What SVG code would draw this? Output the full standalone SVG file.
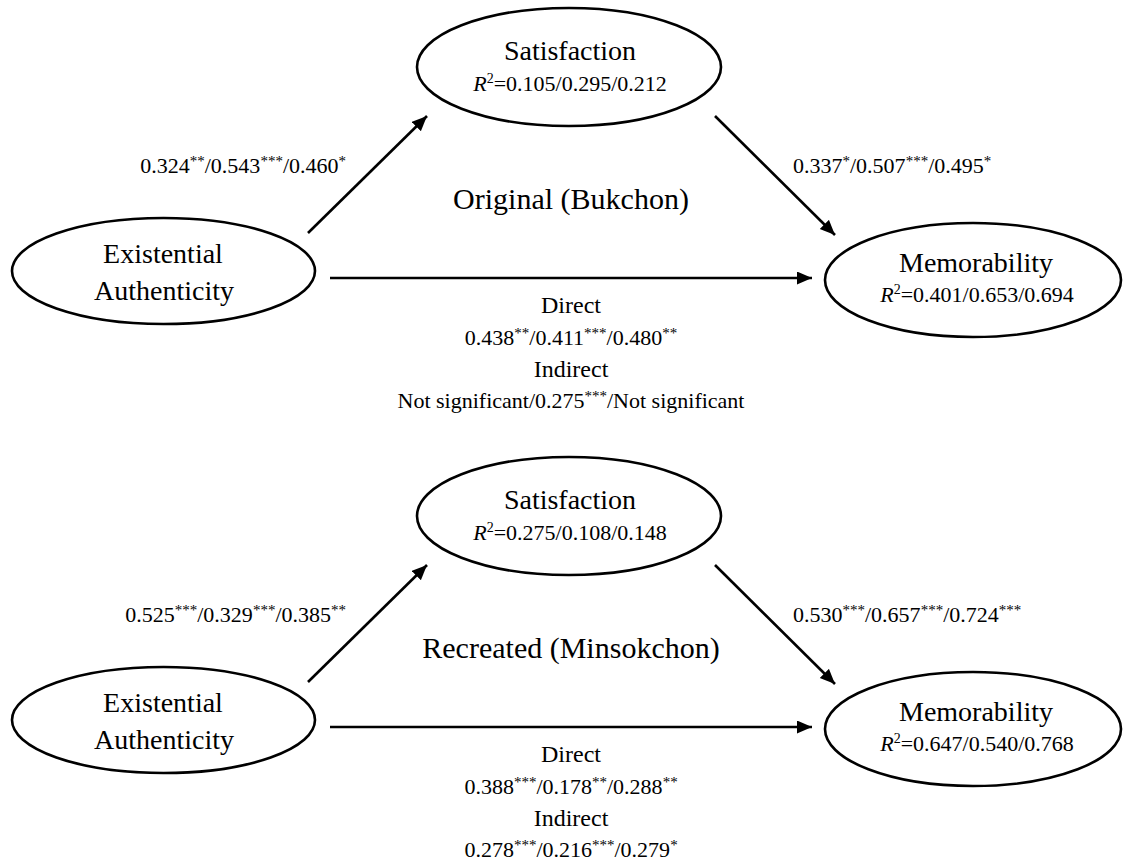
<svg xmlns="http://www.w3.org/2000/svg" width="1123" height="862" viewBox="0 0 1123 862">
<style>
text{font-family:"Liberation Serif","Times New Roman",serif;fill:#000;text-anchor:middle}
.node{fill:#fff;stroke:#000;stroke-width:2.6}
.n{font-size:28px}
.r{font-size:22px}
.l{font-size:22px}
.d{font-size:24px}
.t{font-size:30px}
.s{font-size:15px}
.i{font-style:italic}
.sup{font-size:14px}
.e{text-anchor:end}
.st{text-anchor:start}
.conn line{stroke:#000;stroke-width:2.6;marker-end:url(#ah)}
</style>
<defs>
<marker id="ah" markerUnits="userSpaceOnUse" markerWidth="16" markerHeight="14" refX="15" refY="6.5" orient="auto">
<path d="M0,0 L15,6.5 L0,13 z" fill="#000"/>
</marker>
</defs>
<rect width="1123" height="862" fill="#fff"/>

<!-- Top: Original (Bukchon) -->
<g id="sat1">
<ellipse class="node" cx="569" cy="67" rx="152" ry="59"/>
<text class="n" x="570" y="60">Satisfaction</text>
<text class="r" x="570" y="91"><tspan class="i">R</tspan><tspan class="sup" dy="-8">2</tspan><tspan dy="8">=0.105/0.295/0.212</tspan></text>
</g>
<g id="ea1">
<ellipse class="node" cx="163.5" cy="271" rx="151.5" ry="53"/>
<text class="n" x="163" y="263">Existential</text>
<text class="n" x="164" y="300">Authenticity</text>
</g>
<g id="mem1">
<ellipse class="node" cx="973" cy="280" rx="148" ry="57"/>
<text class="n" x="976" y="272">Memorability</text>
<text class="r" x="977" y="302"><tspan class="i">R</tspan><tspan class="sup" dy="-8">2</tspan><tspan dy="8">=0.401/0.653/0.694</tspan></text>
</g>
<g id="conn1" class="conn">
<line x1="308" y1="233" x2="427" y2="116"/>
<line x1="715" y1="116" x2="835" y2="235"/>
<line x1="330" y1="278" x2="812" y2="278"/>
</g>
<g id="labels1">
<text class="l e" x="346" y="173">0.324<tspan class="s" dy="-7">**</tspan><tspan dy="7">/0.543</tspan><tspan class="s" dy="-7">***</tspan><tspan dy="7">/0.460</tspan><tspan class="s" dy="-7">*</tspan></text>
<text class="l st" x="793" y="173">0.337<tspan class="s" dy="-7">*</tspan><tspan dy="7">/0.507</tspan><tspan class="s" dy="-7">***</tspan><tspan dy="7">/0.495</tspan><tspan class="s" dy="-7">*</tspan></text>
<text class="t" x="571" y="209">Original (Bukchon)</text>
<text class="d" x="571" y="313">Direct</text>
<text class="l" x="571" y="345">0.438<tspan class="s" dy="-7">**</tspan><tspan dy="7">/0.411</tspan><tspan class="s" dy="-7">***</tspan><tspan dy="7">/0.480</tspan><tspan class="s" dy="-7">**</tspan></text>
<text class="d" x="571" y="377">Indirect</text>
<text class="l" x="571" y="408">Not significant/0.275<tspan class="s" dy="-7">***</tspan><tspan dy="7">/Not significant</tspan></text>
</g>

<!-- Bottom: Recreated (Minsokchon) -->
<g id="sat2">
<ellipse class="node" cx="569" cy="516" rx="152" ry="59"/>
<text class="n" x="570" y="509">Satisfaction</text>
<text class="r" x="570" y="540"><tspan class="i">R</tspan><tspan class="sup" dy="-8">2</tspan><tspan dy="8">=0.275/0.108/0.148</tspan></text>
</g>
<g id="ea2">
<ellipse class="node" cx="163.5" cy="720" rx="151.5" ry="53"/>
<text class="n" x="163" y="712">Existential</text>
<text class="n" x="164" y="749">Authenticity</text>
</g>
<g id="mem2">
<ellipse class="node" cx="973" cy="729" rx="148" ry="57"/>
<text class="n" x="976" y="721">Memorability</text>
<text class="r" x="977" y="751"><tspan class="i">R</tspan><tspan class="sup" dy="-8">2</tspan><tspan dy="8">=0.647/0.540/0.768</tspan></text>
</g>
<g id="conn2" class="conn">
<line x1="308" y1="682" x2="427" y2="565"/>
<line x1="715" y1="565" x2="835" y2="684"/>
<line x1="330" y1="727" x2="812" y2="727"/>
</g>
<g id="labels2">
<text class="l e" x="346" y="622">0.525<tspan class="s" dy="-7">***</tspan><tspan dy="7">/0.329</tspan><tspan class="s" dy="-7">***</tspan><tspan dy="7">/0.385</tspan><tspan class="s" dy="-7">**</tspan></text>
<text class="l st" x="793" y="622">0.530<tspan class="s" dy="-7">***</tspan><tspan dy="7">/0.657</tspan><tspan class="s" dy="-7">***</tspan><tspan dy="7">/0.724</tspan><tspan class="s" dy="-7">***</tspan></text>
<text class="t" x="571" y="658">Recreated (Minsokchon)</text>
<text class="d" x="571" y="762">Direct</text>
<text class="l" x="571" y="794">0.388<tspan class="s" dy="-7">***</tspan><tspan dy="7">/0.178</tspan><tspan class="s" dy="-7">**</tspan><tspan dy="7">/0.288</tspan><tspan class="s" dy="-7">**</tspan></text>
<text class="d" x="571" y="826">Indirect</text>
<text class="l" x="571" y="857">0.278<tspan class="s" dy="-7">***</tspan><tspan dy="7">/0.216</tspan><tspan class="s" dy="-7">***</tspan><tspan dy="7">/0.279</tspan><tspan class="s" dy="-7">*</tspan></text>
</g>
</svg>
